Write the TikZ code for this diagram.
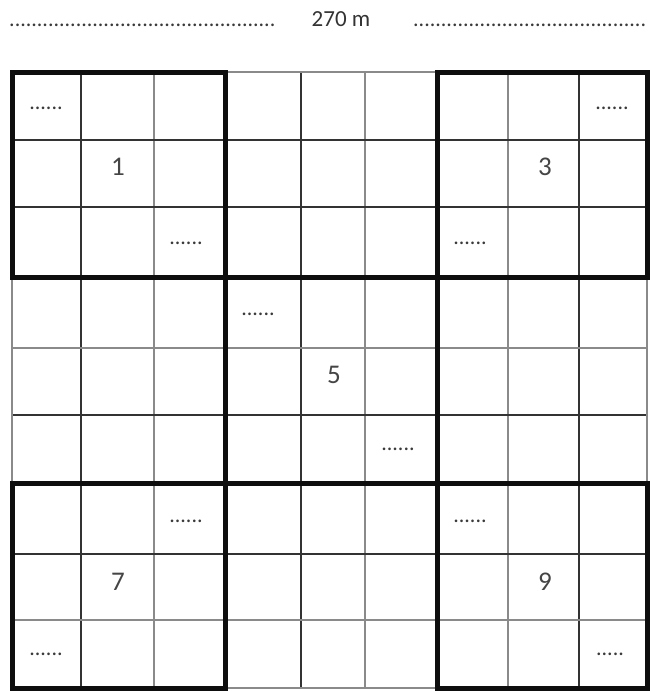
\documentclass[tikz,border=0pt]{standalone}
\usepackage{fontspec}
\setmainfont{Carlito}
\usetikzlibrary{positioning}
\definecolor{ink}{HTML}{0E0E0E}
\definecolor{dk}{HTML}{333333}
\definecolor{lt}{HTML}{8A8A8A}
\definecolor{txt}{HTML}{454545}
\definecolor{dot}{HTML}{3A3A3A}
\tikzset{
  thinD/.style={draw=dk,line width=1.4pt},
  thinL/.style={draw=lt,line width=1.4pt},
  boxline/.style={draw=ink,line width=5pt,line join=miter},
  digit/.style={font=\fontsize{27}{30}\selectfont,text=txt,anchor=base,inner sep=0pt},
  blank/.style={font=\fontsize{22}{24}\selectfont,text=dot,anchor=base,inner sep=0pt},
  scalelbl/.style={font=\fontsize{23}{25}\selectfont,text=dk,anchor=base,inner sep=0pt}
}

\begin{document}
\begin{tikzpicture}[x=1pt,y=-1pt]
  \useasboundingbox (0,0) rectangle (649,691);
  % length across the top
  \node[scalelbl] (len) at (341,26) {270 m};
  \node[blank,anchor=base east] (lenL) at (276,26) {................................................};
  \node[blank,anchor=base west] (lenR) at (413,26) {..........................................};
  % thin grid
  \foreach \x in {81,301,579} \draw[thinD] (\x,72) -- (\x,688);
  \foreach \x in {154,365,508} \draw[thinL] (\x,72) -- (\x,688);
  \foreach \y in {140,207,415,554} \draw[thinD] (12,\y) -- (647,\y);
  \foreach \y in {348,620} \draw[thinL] (12,\y) -- (647,\y);
  \draw[thinL] (12,72) rectangle (647,688);
  % heavy boxes
  \foreach \a/\b/\c/\d in {12/72/225/277,437/72/647/277,225/277/437/483,12/483/225/688,437/483/647/688}
    \draw[boxline] (\a,\b) rectangle (\c,\d);
  % numbers
  \node[digit] (n1) at (118,175) {1};
  \node[digit] (n3) at (545,175) {3};
  \node[digit] (n5) at (334,383) {5};
  \node[digit] (n7) at (118,590) {7};
  \node[digit] (n9) at (545,590) {9};
  % blanks
  \node[blank] (b1) at (46,109) {......};
  \node[blank] (b2) at (612,109) {......};
  \node[blank] (b3) at (186,244) {......};
  \node[blank] (b4) at (470,244) {......};
  \node[blank] (b5) at (258,315) {......};
  \node[blank] (b6) at (398,450) {......};
  \node[blank] (b7) at (186,522) {......};
  \node[blank] (b8) at (470,522) {......};
  \node[blank] (b9) at (46,655) {......};
  \node[blank] (b10) at (610,655) {.....};
\end{tikzpicture}
\end{document}
